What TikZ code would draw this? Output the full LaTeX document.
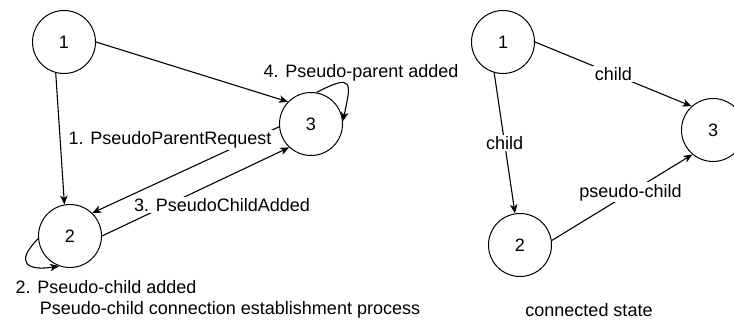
\documentclass[tikz,border=0pt]{standalone}
\usepackage{fontspec}
\setmainfont{Liberation Sans}
\usetikzlibrary{arrows.meta}
\begin{document}
\begin{tikzpicture}[x=1pt,y=1pt,
 st/.style={circle,draw,line width=1pt,minimum size=63pt,inner sep=0pt,font=\fontsize{18}{21}\selectfont},
 ar/.style={line width=1.1pt,-{Stealth[length=9pt,width=7.5pt,inset=2.5pt]}},
 lbl/.style={font=\fontsize{18}{21}\selectfont,fill=white,inner sep=1.5pt},
 txt/.style={font=\fontsize{18}{21}\selectfont,inner sep=0pt}]
\useasboundingbox (0,0) rectangle (734,324);
% left diagram
\node[st] (a1) at (64,282) {1};
\node[st] (a2) at (70,88) {2};
\node[st] (a3) at (311,200) {3};
\draw[ar] (a1.255) -- (a2.100);
\draw[ar] (a1.0) -- (a3.136);
\draw[ar] (a3.185) -- (a2.46);
\node[lbl] (l1) at (170,184) {1. PseudoParentRequest};
\draw[ar] (a2.0) -- (a3.227);
\node[lbl] (l3) at (222,119) {3. PseudoChildAdded};
\draw[ar] (a3.80) .. controls +(38,20) and +(8,38) .. (a3.5);
\draw[ar] (a2.185) .. controls +(-25,-25) and +(-30,-5) .. (a2.250);
\node[txt] (l4) at (361,251) {4. Pseudo-parent added};
\node[txt] (l2) at (106,37) {2. Pseudo-child added};
\node[txt] (c1) at (230,14) {Pseudo-child connection establishment process};
% right diagram
\node[st] (b1) at (503,282) {1};
\node[st] (b2) at (520,79) {2};
\node[st] (b3) at (713,194) {3};
\draw[ar] (b1.0) -- node[lbl] {child} (b3.132);
\draw[ar] (b1.254) -- node[lbl] {child} (b2.99);
\draw[ar] (b2.8) -- node[lbl,pos=0.56] {pseudo-child} (b3.230);
\node[txt] (c2) at (589,14) {connected state};
\end{tikzpicture}
\end{document}
